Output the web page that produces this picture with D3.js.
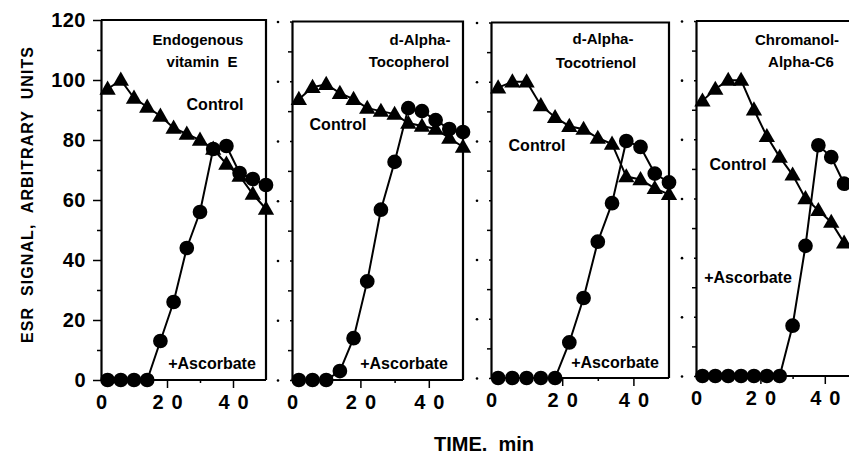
<!DOCTYPE html>
<html>
<head>
<meta charset="utf-8">
<script src="https://cdnjs.cloudflare.com/ajax/libs/d3/7.8.5/d3.min.js"></script>
<style>
  body { margin: 0; background: #fff; }
  svg { font-family: 'Liberation Sans', Arial, sans-serif; font-weight: bold; }
  .axis path, .axis line { stroke: #000; }
  .axis text { font-family: 'Liberation Sans', Arial, sans-serif; font-weight: bold; fill: #000; }
</style>
</head>
<body>
<div id="chart"></div>
<script>

// sampling times (min)
var time = [2, 6, 10, 14, 18, 22, 26, 30, 34, 38, 42, 46, 50];

// ESR signal, arbitrary units
var endoControl   = [97, 100, 94, 91, 88, 84, 82, 80, 77, 72, 68, 62, 57];
var endoAscorbate = [0, 0, 0, 0, 13, 26, 44, 56, 77, 78, 69, 67, 65];
var tphControl    = [94, 98, 99, 96, 94, 91, 90, 89, 86, 85, 84, 81, 78];
var tphAscorbate  = [0, 0, 0, 3, 14, 33, 57, 73, 91, 90, 87, 84, 83];
var t3Control     = [98, 100, 100, 92, 88, 85, 84, 81, 79, 68, 67, 64, 62];
var t3Ascorbate   = [0, 0, 0, 0, 0, 12, 27, 46, 59, 80, 78, 69, 66];
var c6Control     = [93, 97, 100, 100, 90, 81, 74, 68, 60, 56, 52, 45];
var c6Ascorbate   = [0, 0, 0, 0, 0, 0, 0, 17, 44, 78, 74, 65];

var panelTitles = [["Endogenous", "vitamin  E"], ["d-Alpha-", "Tocopherol"],
                   ["d-Alpha-", "Tocotrienol"], ["Chromanol-", "Alpha-C6"]];

var xTicks = [0, 10, 20, 30, 40];
var yTicks = [0, 10, 20, 30, 40, 50, 60, 70, 80, 90, 100, 110, 120];

// panel layout (pixels) and label spots
var panels = [
  {control: endoControl, ascorbate: endoAscorbate, xr: [101, 266], yr: [380, 20],
   title: [198, 45, 202, 67], ctl: [215, 110], asc: [212, 369]},
  {control: tphControl, ascorbate: tphAscorbate, xr: [292, 463], yr: [380, 21.5],
   title: [420, 45, 409, 67], ctl: [338, 130], asc: [404, 369]},
  {control: t3Control, ascorbate: t3Ascorbate, xr: [491, 669], yr: [378, 22.5],
   title: [603, 44, 596, 68], ctl: [537, 151], asc: [615, 368]},
  {control: c6Control, ascorbate: c6Ascorbate, xr: [696, 857], yr: [376, 21],
   title: [797, 45, 801, 67], ctl: [738, 170], asc: [748, 283]}
];

var svg = d3.select("#chart").append("svg")
    .attr("width", 849)
    .attr("height", 455);

var tri = d3.symbol().type(d3.symbolTriangle).size(115);
var dot = d3.symbol().type(d3.symbolCircle).size(170);

panels.forEach(function(p, i) {
  var x = d3.scaleLinear().domain([0, 50]).range(p.xr);
  var y = d3.scaleLinear().domain([0, 120]).range(p.yr);
  var g = svg.append("g");

  //frame: top and right borders
  g.append("path")
    .attr("d", "M" + x(0) + "," + y(120) + "H" + x(50) + "V" + y(0))
    .attr("fill", "none").attr("stroke", "#000").attr("stroke-width", 2.2);

  //x axis
  var xa = g.append("g").attr("class", "axis")
    .attr("transform", "translate(0," + y(0) + ")")
    .call(d3.axisBottom(x).tickValues(xTicks).tickSizeOuter(0)
      .tickFormat(function(d) { return d % 20 === 0 ? d : ""; }));
  xa.select(".domain").attr("d", "M" + x(0) + ",0H" + x(50)).attr("stroke-width", 2.2);
  xa.selectAll(".tick line")
    .attr("y2", function(d) { return d === 0 ? 0 : (d % 20 === 0 ? 8 : 3); })
    .attr("stroke-width", 1.5);
  xa.selectAll(".tick text")
    .attr("y", 15).attr("dy", "0.71em")
    .attr("dx", 4)
    .style("font-size", "20px")
    .style("letter-spacing", "8px");

  //y axis
  var ya = g.append("g").attr("class", "axis")
    .attr("transform", "translate(" + x(0) + ",0)")
    .call(d3.axisLeft(y).tickValues(yTicks).tickSizeOuter(0)
      .tickFormat(function(d) { return i === 0 && d % 20 === 0 ? d : ""; }));
  ya.select(".domain").attr("stroke-width", 2.2);
  ya.selectAll(".tick line")
    .attr("x2", function(d) { return d % 20 === 0 ? (i === 0 ? -8 : -2) : -4; })
    .attr("stroke-width", 1.5);
  ya.selectAll(".tick text")
    .attr("x", -15)
    .style("font-size", "20px")
    .style("letter-spacing", "0.5px");
  if (i > 0) {
    ya.selectAll(".tick").filter(function(d) { return d % 20 === 0; })
      .append("circle").attr("cx", -14).attr("r", 1.3).attr("fill", "#000");
  }

  //series
  var line = d3.line()
    .x(function(d, j) { return x(time[j]); })
    .y(function(d) { return y(d); });

  [p.control, p.ascorbate].forEach(function(series, k) {
    g.append("path").datum(series)
      .attr("d", line)
      .attr("fill", "none").attr("stroke", "#000").attr("stroke-width", 2);
    g.selectAll(".m" + k).data(series).enter().append("path")
      .attr("class", "m" + k)
      .attr("transform", function(d, j) {
        return "translate(" + x(time[j]) + "," + (y(d) + (k === 0 ? 1 : 0)) + ")";
      })
      .attr("d", k === 0 ? tri : dot)
      .attr("fill", "#000");
  });

  //labels
  var lab = function(tx, ty, s, size) {
    g.append("text").attr("x", tx).attr("y", ty)
      .attr("text-anchor", "middle")
      .style("font-size", size + "px")
      .style("white-space", "pre")
      .text(s);
  };
  lab(p.title[0], p.title[1], panelTitles[i][0], 15);
  lab(p.title[2], p.title[3], panelTitles[i][1], 15);
  lab(p.ctl[0], p.ctl[1], "Control", 16);
  lab(p.asc[0], p.asc[1], "+Ascorbate", 16);
});

//axis titles
svg.append("text")
  .attr("transform", "translate(33,195) rotate(-90)")
  .attr("text-anchor", "middle")
  .attr("textLength", 296)
  .attr("lengthAdjust", "spacing")
  .style("font-size", "16px")
  .style("white-space", "pre")
  .text("ESR  SIGNAL,  ARBITRARY  UNITS");

svg.append("text")
  .attr("x", 484).attr("y", 451)
  .attr("text-anchor", "middle")
  .style("font-size", "20px")
  .style("white-space", "pre")
  .text("TIME.  min");

</script>
</body>
</html>
